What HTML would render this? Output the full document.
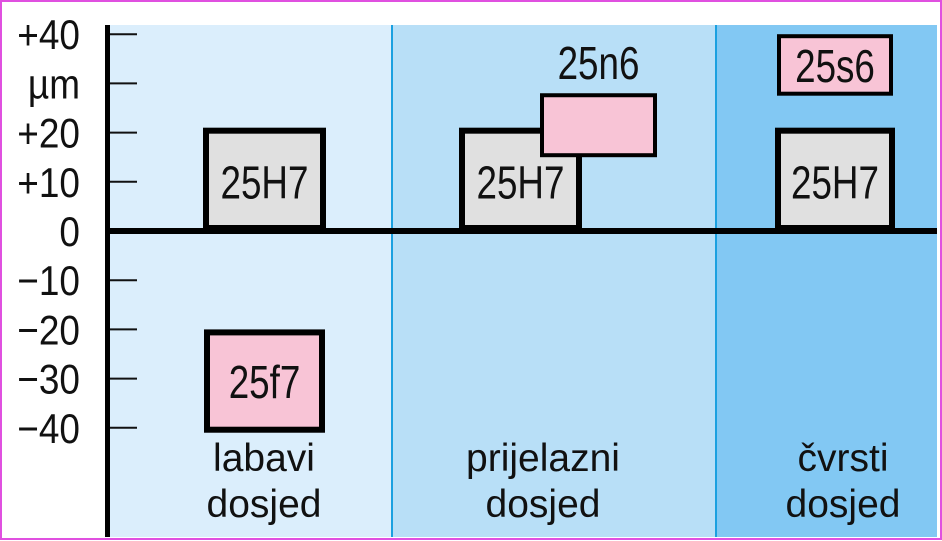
<!DOCTYPE html>
<html><head><meta charset="utf-8"><style>
html,body{margin:0;padding:0;background:#fff}
svg{display:block}
text{font-family:"Liberation Sans",sans-serif}
</style></head><body>
<svg id="c" width="942" height="541" xmlns="http://www.w3.org/2000/svg">
<rect x="1" y="1" width="940" height="538" fill="#fff" stroke="#e050e0" stroke-width="2"/>
<g id="g"></g>
</svg>
<script>
const tickValues=[40,30,20,10,0,-10,-20,-30,-40];
const tickLabels=["+40","µm","+20","+10","0","−10","−20","−30","−40"];
const zoneNames=["labavi","prijelazni","čvrsti"];
const zoneBounds=[107,392,716,937];
const zoneColors=["#dbeefc","#b8dff7","#82c8f3"];
const boxLabels=["25H7","25f7","25H7","25n6","25H7","25s6"];
const boxUpper=[21,-20,21,28,21,40];
const boxLower=[0,-41,0,15,0,27.5];
const boxX=[[203,326],[204,325],[459,582],[540,657],[775,895],[777,893]];
const boxFill=["#e0e0e0","#f8c4d6","#e0e0e0","#f8c4d6","#e0e0e0","#f8c4d6"];
const boxBorder=[6,6,6,4,6,4];
const NS="http://www.w3.org/2000/svg";
const g=document.getElementById('g');
const y=v=>231-v*4.92;
function el(t,a,txt){const e=document.createElementNS(NS,t);for(const k in a)e.setAttribute(k,a[k]);if(txt!==undefined)e.textContent=txt;g.appendChild(e);return e;}
for(let i=0;i<3;i++){
 const r=el('rect',{x:zoneBounds[i],y:25,width:zoneBounds[i+1]-zoneBounds[i],height:512,fill:zoneColors[i]});
 
 
 if(i>0){const l=el('line',{x1:zoneBounds[i],x2:zoneBounds[i],y1:25,y2:537,stroke:'#1aa0e0','stroke-width':2});
 
 }
 const tx=[264,543,843][i];
 const t1=el('text',{x:tx,y:471,'font-size':39,'text-anchor':'middle',fill:'#111'},zoneNames[i]);
 
 
 const t2=el('text',{x:tx,y:517,'font-size':39,'text-anchor':'middle',fill:'#111'},'dosjed');
 
 
}
tickValues.forEach((v,i)=>{
 if(v!==0){const t=el('line',{x1:108,x2:137,y1:y(v),y2:y(v),stroke:'#111','stroke-width':2});
 
 }
 const lab=tickLabels[i];
 const tt=el('text',{x:80,y:y(v)+15,'font-size':42,'text-anchor':'end',fill:'#111',transform:`translate(80,0) scale(0.88,1) translate(-80,0)`},lab);
 
 
});
boxLabels.forEach((lab,i)=>{
 const b=boxBorder[i],x1=boxX[i][0],x2=boxX[i][1],y1=y(boxUpper[i]),y2=y(boxLower[i]);
 const r=el('rect',{x:x1+b/2,y:y1+b/2,width:x2-x1-b,height:y2-y1-b,fill:boxFill[i],stroke:'#000','stroke-width':b});
 
 
 const cx=(x1+x2)/2;
 const ty=(lab==='25n6')?y(boxUpper[i])-14:(lab.includes('H7')?(y1+y2)/2+19:(y1+y2)/2+17);
 const t=el('text',{x:cx,y:ty,'font-size':46,'text-anchor':'middle',fill:'#111',transform:`translate(${cx},0) scale(0.8,1) translate(${-cx},0)`},lab);
 
 
});
const z=el('rect',{x:107,y:228,width:830,height:6,fill:'#000'});


const ax=el('rect',{x:105,y:25,width:5,height:512,fill:'#000'});


</script>
</body></html>
